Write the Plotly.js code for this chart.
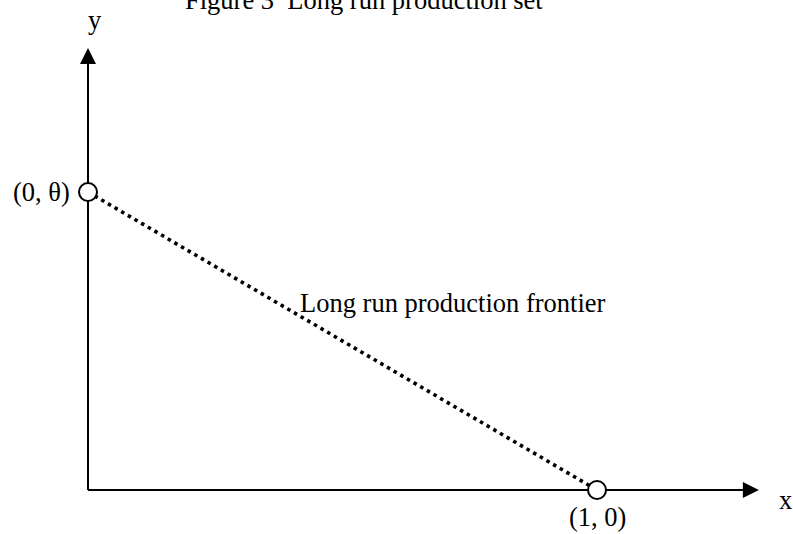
<!DOCTYPE html>
<html>
<head>
<meta charset="utf-8">
<script src="https://cdn.plot.ly/plotly-3.0.1.min.js"></script>
<style>
  html, body { margin: 0; padding: 0; background: #ffffff; }
  #chart { width: 793px; height: 534px; }
</style>
</head>
<body>
<div id="chart"></div>
<script>
// Long-run production set: the frontier runs from (0, θ) down to (1, 0).
const theta = 1;                              // y-intercept of the frontier
const frontierX = [0, 1];
const frontierY = [theta, 0];
const pointLabels = ['(0, θ)', '(1, 0)'];
const axisNames = ['x', 'y'];
const frontierName = 'Long run production frontier';
const figureTitle = 'Figure 3\u00a0 Long run production set';

// Extent of the drawn axes (arrow tips), in data units
const xTip = 1.318;
const yTip = 1.483;

const serif = 'Liberation Serif, Times New Roman, serif';
const ink = '#000000';

const traces = [
  // horizontal axis
  { x: [0, xTip - 0.02], y: [0, 0], mode: 'lines',
    line: { color: ink, width: 2 }, hoverinfo: 'skip' },
  // vertical axis
  { x: [0, 0], y: [0, yTip - 0.03], mode: 'lines',
    line: { color: ink, width: 2 }, hoverinfo: 'skip' },
  // frontier
  { x: frontierX, y: frontierY, mode: 'lines',
    line: { color: ink, width: 3.6, dash: '3.5px,4.2px' }, hoverinfo: 'skip' },
  // end points (open circles)
  { x: frontierX, y: frontierY, mode: 'markers',
    marker: { symbol: 'circle', size: 18, color: '#ffffff',
              line: { color: ink, width: 2 } },
    hoverinfo: 'skip' }
];

const txt = { family: serif, size: 26.5, color: ink };

const annotations = [
  // arrow heads on both axes
  { x: xTip, y: 0, ax: xTip - 0.05, ay: 0, xref: 'x', yref: 'y',
    axref: 'x', ayref: 'y', text: '', showarrow: true,
    arrowhead: 2, arrowsize: 1.6, arrowwidth: 2, arrowcolor: ink },
  { x: 0, y: yTip, ax: 0, ay: yTip - 0.08, xref: 'x', yref: 'y',
    axref: 'x', ayref: 'y', text: '', showarrow: true,
    arrowhead: 2, arrowsize: 1.6, arrowwidth: 2, arrowcolor: ink },
  // point labels
  { x: frontierX[0], y: frontierY[0], text: pointLabels[0], showarrow: false,
    xanchor: 'right', yanchor: 'middle', xshift: -16, font: txt },
  { x: frontierX[1], y: frontierY[1], text: pointLabels[1], showarrow: false,
    xanchor: 'center', yanchor: 'middle', yshift: -27, font: txt },
  // axis names
  { x: 1.371, y: 0, text: axisNames[0], showarrow: false,
    xanchor: 'center', yanchor: 'middle', yshift: -10, font: txt },
  { x: 0.0138, y: 1.577, text: axisNames[1], showarrow: false,
    xanchor: 'center', yanchor: 'middle', font: txt },
  // frontier label
  { x: 0.4125, y: 0.6275, text: frontierName, showarrow: false,
    xanchor: 'left', yanchor: 'middle', font: txt }
];

const layout = {
  width: 793, height: 534,
  margin: { l: 0, r: 0, t: 0, b: 0 },
  paper_bgcolor: '#ffffff', plot_bgcolor: '#ffffff',
  showlegend: false,
  title: { text: figureTitle, x: 185 / 793, xanchor: 'left', xref: 'container',
           y: 1, yanchor: 'middle', yref: 'container', font: txt },
  xaxis: { range: [-88 / 509, 705 / 509], visible: false, fixedrange: true },
  yaxis: { range: [-44 / 298, 490 / 298], visible: false, fixedrange: true },
  annotations: annotations
};

Plotly.newPlot('chart', traces, layout, { displayModeBar: false, staticPlot: true });
</script>
</body>
</html>
